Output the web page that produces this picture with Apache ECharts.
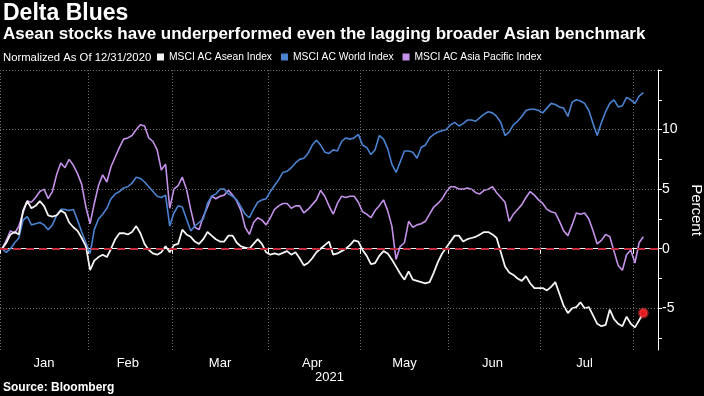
<!DOCTYPE html>
<html><head><meta charset="utf-8">
<script src="https://cdn.jsdelivr.net/npm/echarts@6/dist/echarts.min.js"></script>
<style>html,body{margin:0;padding:0;background:#000}#c{width:704px;height:396px}</style>
</head><body><div id="c"></div>
<script>
// ---- data ----
const seriesNames = ['MSCI AC Asean Index', 'MSCI AC World Index', 'MSCI AC Asia Pacific Index'];
const asean = [
  0.0, 0.5, 1.2, 1.4, 1.2, 3.2, 4.0, 3.4, 3.6, 4.0,
  3.6, 2.8, 2.7, 2.8, 3.2, 3.0, 2.2, 1.8, 1.5, 0.9,
  0.2, -1.8, -1.0, -0.7, -0.5, -0.7, 0.0, 0.8, 1.3, 1.3,
  1.2, 1.4, 1.9, 1.3, 0.4, -0.1, -0.4, -0.5, -0.3, 0.2,
  -0.3, 0.3, 0.4, 1.6, 1.2, 1.0, 0.6, 0.4, 0.8, 1.4,
  1.1, 0.8, 0.6, 0.6, 1.1, 1.1, 0.5, 0.2, 0.1, 0.0,
  0.4, 0.8, 0.4, -0.3, -0.5, -0.4, -0.5, -0.35, -0.2, -0.5,
  -0.3, -0.8, -1.4, -1.2, -0.8, -0.3, 0.0, 0.3, 0.6, -0.5,
  -0.4, -0.2, 0.0, 0.3, 0.7, 0.6, -0.1, -0.6, -1.3, -1.2,
  -0.6, -0.2, -0.4, -0.9, -1.5, -2.1, -2.6, -1.9, -2.6, -2.7,
  -2.8, -2.9, -2.8, -2.0, -1.1, -0.4, 0.1, 0.6, 1.1, 1.1,
  0.6, 0.8, 0.9, 1.0, 1.2, 1.4, 1.4, 1.2, 0.9, -0.3,
  -1.5, -2.0, -2.2, -2.5, -2.7, -2.3, -2.9, -3.3, -3.3, -3.3,
  -3.5, -3.2, -2.8, -3.8, -4.8, -5.4, -5.0, -4.9, -4.5, -5.0,
  -4.9, -5.6, -6.3, -6.5, -6.4, -5.1, -5.9, -6.3, -6.5, -5.7,
  -6.3, -6.6, -6.0, -5.4
];
const world = [
  0.0, -0.3, 0.0, 0.5, 0.9, 2.4, 2.7, 2.0, 2.1, 2.2,
  2.0, 1.6, 2.0, 2.8, 3.3, 3.3, 3.2, 3.3, 2.4, 1.4,
  0.5, -0.4, 1.6, 2.5, 2.9, 3.4, 4.2, 4.6, 4.8, 5.1,
  5.2, 5.5, 6.0, 5.9, 5.6, 5.2, 4.8, 4.4, 4.3, 4.5,
  1.9, 3.0, 3.6, 3.5, 2.5, 1.5, 1.9, 2.2, 2.5, 3.8,
  4.4, 4.6, 5.0, 5.0, 4.6, 4.4, 4.1, 3.5, 2.9, 2.6,
  3.3, 3.9, 4.1, 4.2, 4.8, 5.3, 5.8, 6.4, 6.5, 6.8,
  7.2, 7.5, 7.6, 8.0, 8.7, 9.1, 8.7, 8.1, 8.0, 8.3,
  8.2, 9.0, 9.3, 9.2, 9.3, 9.6, 8.7, 8.5, 7.9, 8.3,
  9.5, 9.2, 8.4, 7.1, 6.4, 7.3, 8.2, 8.2, 8.1, 7.6,
  8.5, 8.7, 9.3, 9.6, 9.8, 9.9, 10.0, 10.4, 10.6, 10.3,
  10.5, 10.8, 10.8, 10.7, 11.0, 11.3, 11.5, 11.4, 11.1, 10.6,
  9.5, 9.8, 10.4, 10.7, 11.1, 11.6, 11.7, 11.7, 11.6, 11.4,
  11.8, 12.2, 12.1, 11.9, 11.8, 11.1, 12.3, 12.5, 12.4, 12.2,
  11.6, 10.5, 9.5, 10.6, 11.5, 12.2, 12.5, 11.9, 12.0, 12.7,
  12.5, 12.2, 12.8, 13.1
];
const asiaPac = [
  0.0, 0.7, 1.5, 1.3, 1.9, 3.0, 4.0, 3.9, 4.3, 4.8,
  5.0, 4.2, 4.8, 6.2, 7.2, 6.8, 7.5, 7.0, 6.3, 5.4,
  3.5, 2.1, 3.8, 5.3, 6.2, 5.6, 6.9, 7.7, 8.5, 9.2,
  9.3, 9.5, 10.0, 10.4, 10.3, 9.3, 9.0, 8.3, 6.6, 7.1,
  3.4, 5.0, 5.3, 6.0, 5.0, 3.3, 1.8, 1.6, 2.7, 3.5,
  4.4, 4.2, 4.4, 4.5, 4.9, 4.5, 4.0, 3.2, 1.8, 1.2,
  2.2, 2.6, 2.4, 2.0, 2.6, 3.3, 3.6, 3.8, 3.8, 3.4,
  3.6, 3.6, 3.0, 3.3, 3.7, 4.1, 4.9, 4.4, 3.6, 2.9,
  3.8, 4.4, 4.3, 4.4, 4.4, 3.9, 3.1, 2.9, 2.6, 3.2,
  3.6, 4.1, 3.2, 1.9, -0.9, 0.2, 0.5, 2.3, 1.8, 2.0,
  2.1, 2.3, 2.9, 3.5, 3.8, 4.2, 4.8, 5.2, 5.2, 5.0,
  5.0, 5.1, 5.0, 4.7, 4.6, 4.9, 5.0, 5.2, 4.7, 4.3,
  3.9, 2.3, 2.9, 3.3, 3.7, 4.3, 4.8, 4.5, 4.1, 3.8,
  3.3, 3.1, 3.0, 2.3, 1.5, 1.1, 2.0, 3.0, 2.9, 3.0,
  2.5, 1.5, 0.4, 0.7, 1.2, 1.0, -0.2, -1.4, -1.8, -0.5,
  -0.1, -1.2, 0.5, 1.0
];
const yLabelValues = [-5, 0, 5, 10];
const yTickValues = [-7.5, -5, -2.5, 0, 2.5, 5, 7.5, 10, 12.5, 15];
const gridValues = [15, 10, 5, -5];
const monthNames = ['Jan', 'Feb', 'Mar', 'Apr', 'May', 'Jun', 'Jul', 'Aug', 'Sep', 'Oct', 'Nov', 'Dec'];
const startDate = '2020-12-31';
const endDate = '2021-08-09';
const holidays = ['2021-01-01'];

// trading-day categories (weekdays)
function buildDates() {
  const out = [];
  const d = new Date(startDate + 'T00:00:00Z');
  const end = new Date(endDate + 'T00:00:00Z').getTime();
  while (d.getTime() <= end) {
    const wd = d.getUTCDay();
    const s = d.toISOString().slice(0, 10);
    if (wd !== 0 && wd !== 6 && holidays.indexOf(s) < 0) out.push(s);
    d.setUTCDate(d.getUTCDate() + 1);
  }
  return out;
}
const dates = buildDates();
const mon = s => parseInt(s.slice(5, 7), 10);

// month boundary ticks (Dec 31 belongs to the Jan band)
const tickSet = new Set([0]);
for (let i = 2; i < dates.length; i++) if (mon(dates[i]) !== mon(dates[i - 1])) tickSet.add(i);
// label at the centre of each month
const labelSet = new Set();
for (let m = 1; m <= 7; m++) {
  let s = -1, e = -1;
  dates.forEach((d, i) => { if (mon(d) === m) { if (s < 0) s = i; e = i; } });
  if (m === 1) s = 0;
  labelSet.add(Math.floor((s + e) / 2));
}

const FONT = "'Liberation Sans', Arial, sans-serif";
const gridLine = {color: '#6a6a6a', type: [1, 2], width: 1};

const chart = echarts.init(document.getElementById('c'), null, {renderer: 'canvas'});
chart.setOption({
  backgroundColor: '#000',
  animation: false,
  title: [
    {text: 'Delta Blues', left: 3, top: 2, padding: 0,
      textStyle: {color: '#fff', fontSize: 23, fontWeight: 'bold', fontFamily: FONT}},
    {text: 'Asean stocks have underperformed even the lagging broader Asian benchmark', left: 3, top: 26, padding: 0,
      textStyle: {color: '#fff', fontSize: 17, fontWeight: 'bold', fontFamily: FONT}},
    {text: 'Normalized As Of 12/31/2020', left: 3, top: 52, padding: 0,
      textStyle: {color: '#fff', fontSize: 11.3, fontWeight: 'normal', fontFamily: FONT}},
    {text: '2021', left: 315, top: 371, padding: 0,
      textStyle: {color: '#fff', fontSize: 13, fontWeight: 'normal', fontFamily: FONT}},
    {text: 'Source: Bloomberg', left: 3, top: 382, padding: 0,
      textStyle: {color: '#fff', fontSize: 12, fontWeight: 'bold', fontFamily: FONT}}
  ],
  legend: {
    data: seriesNames, left: 157, top: 52, padding: 0,
    itemWidth: 7, itemHeight: 7, itemGap: 9, icon: 'rect',
    textStyle: {color: '#fff', fontSize: 10.3, fontFamily: FONT}
  },
  grid: {left: 0, right: 46, top: 70, bottom: 46, outerBoundsMode: 'none'},
  xAxis: {
    type: 'category', data: dates, boundaryGap: true,
    axisLine: {show: true, lineStyle: {color: '#fff', width: 1}},
    axisTick: {show: true, length: 5, interval: (i) => tickSet.has(i), lineStyle: {color: '#fff'}},
    axisLabel: {interval: (i) => labelSet.has(i), formatter: v => monthNames[mon(v) - 1],
      color: '#fff', fontSize: 13, fontFamily: FONT, margin: 7},
    splitLine: {show: true, interval: (i) => tickSet.has(i), lineStyle: gridLine}
  },
  yAxis: {
    type: 'value', position: 'right', min: -8.5, max: 15,
    axisLine: {show: true, lineStyle: {color: '#fff', width: 1}},
    axisTick: {show: true, customValues: yTickValues, length: 4, lineStyle: {color: '#fff'}},
    axisLabel: {customValues: yLabelValues, color: '#fff', fontSize: 14, fontFamily: FONT, margin: 4},
    splitLine: {show: false},
    name: 'Percent', nameLocation: 'middle', nameRotate: -90, nameGap: 26,
    nameTextStyle: {color: '#fff', fontSize: 15, fontFamily: FONT}
  },
  series: [
    {
      name: 'grid', type: 'line', data: [], silent: true,
      markLine: {
        silent: true, symbol: 'none', label: {show: false},
        data: gridValues.map(v => ({yAxis: v, lineStyle: gridLine}))
          .concat([{yAxis: 0, lineStyle: {color: '#c42c3e', type: [8, 5], width: 2}}])
      }
    },
    {name: seriesNames[2], type: 'line', data: asiaPac, showSymbol: false, symbol: 'none',
      color: '#c491e8', lineStyle: {width: 1.6}},
    {name: seriesNames[1], type: 'line', data: world, showSymbol: false, symbol: 'none',
      color: '#4a82d0', lineStyle: {width: 1.6}},
    {name: seriesNames[0], type: 'line', data: asean, showSymbol: false, symbol: 'none',
      color: '#f4f4f4', lineStyle: {width: 1.8},
      markPoint: {
        symbol: 'circle', symbolSize: 8, label: {show: false}, silent: true,
        itemStyle: {color: '#e01c24', borderColor: 'rgba(255,60,60,0.45)', borderWidth: 3},
        data: [{coord: [dates[asean.length - 1], asean[asean.length - 1]]}]
      }}
  ]
});
</script>
</body></html>
